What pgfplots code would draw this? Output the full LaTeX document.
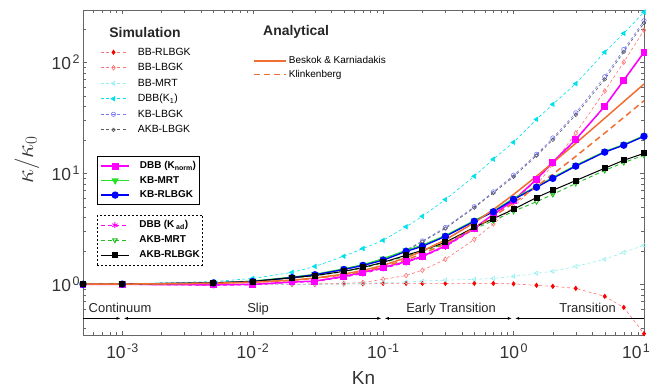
\documentclass[border=0pt]{standalone}
\usepackage{fontspec}
\setmainfont{Liberation Sans}
\usepackage{pgfplots}
\usepackage{pgfplotstable}
\pgfplotsset{compat=1.18}
\usetikzlibrary{arrows.meta}
\definecolor{redm}{RGB}{255,0,0}
\definecolor{redl}{RGB}{255,115,115}
\definecolor{cyanl}{RGB}{150,240,240}
\definecolor{cyanm}{RGB}{0,225,235}
\definecolor{bluel}{RGB}{120,120,255}
\definecolor{grayd}{RGB}{90,90,90}
\definecolor{magm}{RGB}{255,0,255}
\definecolor{greenm}{RGB}{40,225,40}
\definecolor{bluem}{RGB}{0,0,255}
\definecolor{orng}{RGB}{240,110,50}
\newcommand{\tl}[1]{10\hspace{1.5bp}\raisebox{6.5bp}{\fontsize{12.5}{12}\selectfont #1}}
\newcommand{\gs}{\hspace*{11bp}}
\newcommand{\gb}{\hspace*{10bp}}
\pgfplotsset{
  sRL/.style={color=redl, line width=0.6bp, dash pattern=on 3bp off 2.5bp, mark=diamond*, mark size=2.2bp, mark options={solid, draw=redm, fill=redm}},
  sLB/.style={color=redl, line width=0.6bp, dash pattern=on 3bp off 2.5bp, mark=diamond, mark size=2.4bp, mark options={solid}},
  sMRT/.style={color=cyanl, line width=0.6bp, dash pattern=on 3bp off 2.5bp, mark=triangle, mark size=2.4bp, mark options={solid, rotate=90}},
  sK1/.style={color=cyanm, line width=0.6bp, dash pattern=on 3bp off 2.5bp, mark=triangle*, mark size=2.6bp, mark options={solid, rotate=90, fill=cyanm}},
  sKBL/.style={color=bluel, line width=0.6bp, dash pattern=on 3bp off 2.5bp, mark=o, mark size=2.2bp, mark options={solid}},
  sAKBL/.style={color=grayd, line width=0.6bp, dash pattern=on 3bp off 2.5bp, mark=o, mark size=1.8bp, mark options={solid}},
  sNORM/.style={color=magm, line width=1.5bp, mark=square*, mark size=2.7bp, mark options={solid, fill=magm}},
  sAD/.style={color=magm, line width=0.9bp, dash pattern=on 4bp off 3bp, mark=asterisk, mark size=3bp, mark options={solid}},
  sKBMRT/.style={color=greenm, line width=1.3bp, mark=triangle*, mark size=3bp, mark options={solid, rotate=180, fill=greenm}},
  sAKBMRT/.style={color=greenm!85!black, line width=0.9bp, dash pattern=on 4bp off 3bp, mark=triangle, mark size=2.6bp, mark options={solid, rotate=180}},
  sKBRL/.style={color=bluem, line width=1.3bp, mark=*, mark size=3bp, mark options={solid, fill=bluem}},
  sAKBRL/.style={color=black, line width=1bp, mark=square*, mark size=2.5bp, mark options={solid, fill=black}},
  sBK/.style={color=orng, line width=1.5bp, no markers},
  sKL/.style={color=orng, line width=1.5bp, dash pattern=on 6bp off 4bp, no markers},
}
\pgfplotstableread{
Kn RL LB MRT K1 KBL AKBL NORM AD KBMRT KBRL AKBRL AKBMRT BK KL
0.0005 1.00 1.00 1.00 1.00 1.00 1.00 1.00 1.00 1.00 1.00 1.00 1.00 1.002 1.002
0.001 1.00 1.00 1.00 1.01 1.01 1.01 1.00 1.00 1.005 1.005 1.005 1.005 1.004 1.004
0.005 1.00 1.00 1.00 1.06 1.04 1.04 0.99 0.98 1.03 1.03 1.03 1.03 1.022 1.022
0.01 1.00 1.00 1.00 1.13 1.07 1.07 1.00 0.99 1.07 1.06 1.06 1.06 1.045 1.044
0.02 1.00 1.00 1.00 1.28 1.15 1.14 1.05 1.04 1.16 1.15 1.15 1.14 1.091 1.088
0.03 1.00 1.01 1.00 1.45 1.22 1.21 1.07 1.06 1.23 1.22 1.20 1.19 1.139 1.132
0.05 1.01 1.02 1.01 1.79 1.38 1.36 1.18 1.16 1.38 1.36 1.31 1.30 1.236 1.22
0.07 1.01 1.04 1.02 2.10 1.50 1.48 1.28 1.25 1.50 1.48 1.42 1.40 1.334 1.308
0.1 1.02 1.11 1.04 2.49 1.70 1.66 1.42 1.39 1.70 1.65 1.58 1.56 1.483 1.44
0.15 1.02 1.20 1.05 3.30 2.04 2.00 1.60 1.57 2.02 1.98 1.83 1.80 1.735 1.66
0.2 1.02 1.34 1.07 4.10 2.46 2.42 1.79 1.76 2.25 2.20 2.02 1.98 1.991 1.88
0.3 1.02 1.68 1.09 5.80 3.25 3.18 2.22 2.18 2.75 2.70 2.39 2.33 2.515 2.32
0.5 1.02 2.54 1.11 9.40 5.00 4.90 3.20 3.15 3.75 3.69 3.26 3.15 3.596 3.20
0.7 1.02 3.50 1.13 13.4 6.80 6.65 4.27 4.20 4.55 4.50 3.90 3.75 4.714 4.08
1 1.01 5.00 1.18 19.0 9.60 9.30 5.70 5.60 5.95 5.82 4.74 4.55 6.439 5.40
1.5 0.98 7.80 1.26 30.6 14.8 14.4 8.83 8.70 7.60 7.48 6.05 5.55 9.403 7.60
2 0.96 12.0 1.31 41.8 20.8 20.0 12.6 12.4 9.15 9.00 7.03 6.45 12.44 9.80
3 0.92 23.0 1.45 64.0 35.0 33.5 20.2 20.0 11.8 11.6 8.60 8.10 18.64 14.2
5 0.78 55.0 1.68 123 74.0 70.0 40.1 40.0 15.7 15.5 11.1 10.6 31.31 23.0
7 0.62 100 1.94 182 130 124 68.9 68.0 18.1 17.9 13.1 12.5 44.17 31.8
10 0.36 194 2.25 282 236 225 123 122 21.8 21.5 15.1 14.5 63.6 45.0
}\data
\begin{document}
\begin{tikzpicture}
\begin{axis}[name=main, at={(0,0)}, anchor=south west, scale only axis,
  width=561bp, height=325bp,
  xmode=log, ymode=log, xmin=5e-4, xmax=10, ymin=0.35, ymax=295,
  clip=false,
  axis line style={black!60}, tick style={black!60},
  xtick={1e-3,1e-2,1e-1,1,10},
  xticklabels={\tl{-3},\tl{-2},\tl{-1},\tl{0},\hspace*{-16bp}\tl{1}},
  minor xtick={6e-4,7e-4,8e-4,9e-4,2e-3,3e-3,4e-3,5e-3,6e-3,7e-3,8e-3,9e-3,0.02,0.03,0.04,0.05,0.06,0.07,0.08,0.09,0.2,0.3,0.4,0.5,0.6,0.7,0.8,0.9,2,3,4,5,6,7,8,9},
  ytick={1,10,100},
  yticklabels={\tl{0},\tl{1},\tl{2}},
  minor ytick={0.4,0.5,0.6,0.7,0.8,0.9,2,3,4,5,6,7,8,9,20,30,40,50,60,70,80,90,200},
  ticklabel style={font=\fontsize{17.5}{18}\selectfont, text=black!80},
  xticklabel style={yshift=-5bp},
  xlabel={Kn}, xlabel style={font=\fontsize{19}{20}\selectfont, text=black!80, at={(axis description cs:0.5,-0.132)}, anchor=center},
  ylabel={$\kappa/\kappa_0$}, ylabel style={font=\fontsize{23}{23}\selectfont, text=black!80, at={(axis description cs:-0.1,0.54)}, anchor=center},
  legend style={at={(0.025,0.892)}, anchor=north west, draw=none, fill=none,
    font=\fontsize{10.5}{12}\selectfont, row sep=5.5bp,
    nodes={inner sep=0pt, text height=7.8bp, text depth=2.2bp}},
  legend cell align=left,
  legend image code/.code={\draw[mark repeat=2,mark phase=2,#1] plot coordinates {(0bp,0bp)(13bp,0bp)(26bp,0bp)};},
]
\addplot[sRL] table[x=Kn,y=RL]{\data}; \addlegendentry{\gs BB-RLBGK}
\addplot[sLB] table[x=Kn,y=LB]{\data}; \addlegendentry{\gs BB-LBGK}
\addplot[sMRT] table[x=Kn,y=MRT]{\data}; \addlegendentry{\gs BB-MRT}
\addplot[sK1] table[x=Kn,y=K1]{\data}; \addlegendentry{\gs DBB(K\textsubscript{1})}
\addplot[sKBL] table[x=Kn,y=KBL]{\data}; \addlegendentry{\gs KB-LBGK}
\addplot[sAKBL] table[x=Kn,y=AKBL]{\data}; \addlegendentry{\gs AKB-LBGK}
\addplot[sAD, forget plot] table[x=Kn,y=AD]{\data};
\addplot[sAKBMRT, forget plot] table[x=Kn,y=AKBMRT]{\data};
\addplot[sNORM, forget plot] table[x=Kn,y=NORM]{\data};
\addplot[sKBMRT, forget plot] table[x=Kn,y=KBMRT]{\data};
\addplot[sKBRL, forget plot] table[x=Kn,y=KBRL]{\data};
\addplot[sAKBRL, forget plot] table[x=Kn,y=AKBRL]{\data};
\addplot[sKL, forget plot] table[x=Kn,y=KL]{\data};
\addplot[sBK, forget plot] table[x=Kn,y=BK]{\data};
% regime annotations
\draw[black, line width=0.6bp, -{Latex[length=4bp,width=3bp]}] (axis cs:5e-4,0.494) -- (axis cs:9.7e-4,0.494);
\draw[black, line width=0.6bp, {Latex[length=4bp,width=3bp]}-{Latex[length=4bp,width=3bp]}] (axis cs:1.03e-3,0.494) -- (axis cs:0.097,0.494);
\draw[black, line width=0.6bp, {Latex[length=4bp,width=3bp]}-{Latex[length=4bp,width=3bp]}] (axis cs:0.103,0.494) -- (axis cs:0.97,0.494);
\draw[black, line width=0.6bp, {Latex[length=4bp,width=3bp]}-] (axis cs:1.03,0.494) -- (axis cs:10,0.494);
\node[anchor=base west, font=\fontsize{13}{14}\selectfont, text=black!85] at (axis cs:5.2e-4,0.56) {Continuum};
\node[anchor=base, font=\fontsize{13}{14}\selectfont, text=black!85] at (axis cs:0.011,0.56) {Slip};
\node[anchor=base, font=\fontsize{13}{14}\selectfont, text=black!85] at (axis cs:0.332,0.56) {Early Transition};
\node[anchor=base, font=\fontsize{13}{14}\selectfont, text=black!85] at (axis cs:3.69,0.56) {Transition};
\node[font=\bfseries\fontsize{14}{14}\selectfont, text=black!85] at (rel axis cs:0.1105,0.932) {Simulation};
\node[font=\bfseries\fontsize{14}{14}\selectfont, text=black!85] at (rel axis cs:0.38,0.932) {Analytical};
\end{axis}
% Analytical legend
\begin{axis}[at={(0,0)}, anchor=south west, scale only axis, width=561bp, height=325bp,
  hide axis, xmin=0, xmax=1, ymin=0, ymax=1,
  legend style={at={(0.298,0.865)}, anchor=north west, draw=none, fill=none,
    font=\fontsize{10}{11}\selectfont, row sep=4bp,
    nodes={inner sep=0pt, text height=7.5bp, text depth=2bp}},
  legend cell align=left,
  legend image code/.code={\draw[#1] (0bp,0bp) -- (32bp,0bp);}]
\addlegendimage{sBK}\addlegendentry{\hspace*{2bp}Beskok \& Karniadakis}
\addlegendimage{sKL}\addlegendentry{\hspace*{2bp}Klinkenberg}
\end{axis}
% solid box legend
\begin{axis}[at={(0,0)}, anchor=south west, scale only axis, width=561bp, height=325bp,
  hide axis, xmin=0, xmax=1, ymin=0, ymax=1,
  legend style={at={(0.025,0.551)}, anchor=north west, draw=black, line width=0.8bp, fill=white,
    inner xsep=3bp, inner ysep=5bp,
    font=\bfseries\fontsize{10}{12}\selectfont, row sep=5bp,
    nodes={inner sep=0pt, text height=7.5bp, text depth=2bp}},
  legend cell align=left,
  legend image code/.code={\draw[mark repeat=2,mark phase=2,#1] plot coordinates {(0bp,0bp)(14bp,0bp)(28bp,0bp)};}]
\addlegendimage{sNORM}\addlegendentry{\gb DBB (K\textsubscript{norm})}
\addlegendimage{sKBMRT}\addlegendentry{\gb KB-MRT}
\addlegendimage{sKBRL}\addlegendentry{\gb KB-RLBGK}
\end{axis}
% dashed box legend
\begin{axis}[at={(0,0)}, anchor=south west, scale only axis, width=561bp, height=325bp,
  hide axis, xmin=0, xmax=1, ymin=0, ymax=1,
  legend style={at={(0.025,0.369)}, anchor=north west, draw=black, line width=0.8bp, dash pattern=on 2bp off 2bp, fill=white,
    inner xsep=3bp, inner ysep=5bp,
    font=\bfseries\fontsize{10}{12}\selectfont, row sep=5.5bp,
    nodes={inner sep=0pt, text height=7.5bp, text depth=2bp}},
  legend cell align=left,
  legend image code/.code={\draw[mark repeat=2,mark phase=2,#1] plot coordinates {(0bp,0bp)(14bp,0bp)(28bp,0bp)};}]
\addlegendimage{sAD}\addlegendentry{\gb DBB (K\textsubscript{ ad})}
\addlegendimage{sAKBMRT}\addlegendentry{\gb AKB-MRT}
\addlegendimage{sAKBRL}\addlegendentry{\gb AKB-RLBGK}
\end{axis}
\pgfresetboundingbox
\path (-83bp,-55bp) rectangle (571bp,335bp);
\end{tikzpicture}
\end{document}
